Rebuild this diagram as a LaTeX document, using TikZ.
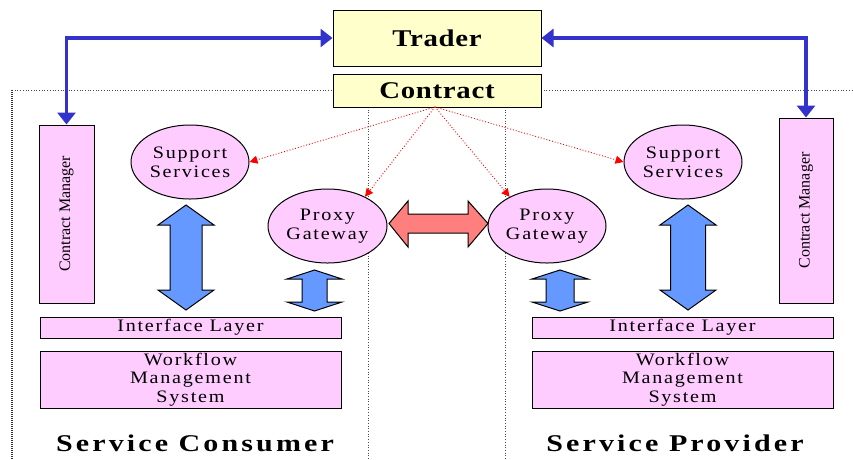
\documentclass[tikz,border=0pt]{standalone}
\usepackage{fontspec}
\setmainfont{Liberation Serif}
\newfontfamily\bodyfont[FakeStretch=1.15,LetterSpace=10]{Liberation Serif}
\newfontfamily\headfont[FakeStretch=1.2,LetterSpace=3,UprightFont=* Bold]{Liberation Serif}
\newfontfamily\sidefont[FakeStretch=1.25,LetterSpace=13,UprightFont=* Bold]{Liberation Serif}
\usetikzlibrary{shapes.geometric,arrows.meta}
\definecolor{pinkfill}{HTML}{FFCCFF}
\definecolor{yellowfill}{HTML}{FFFFCC}
\definecolor{bluefill}{HTML}{6699FF}
\definecolor{redfill}{HTML}{FF7F7F}
\definecolor{linkblue}{HTML}{3333CC}
\begin{document}
\begin{tikzpicture}[x=1pt,y=-1pt,
  ybox/.style={draw=black,line width=1pt,fill=yellowfill,inner sep=0pt,font=\headfont\fontsize{24}{26}\selectfont},
  pbox/.style={draw=black,line width=1pt,fill=pinkfill,inner sep=0pt,align=center,font=\bodyfont\fontsize{17.5}{18.5}\selectfont},
  pell/.style={ellipse,draw=black,line width=1pt,fill=pinkfill,inner sep=0pt,minimum width=118pt,minimum height=74pt,align=center,font=\bodyfont\fontsize{17.5}{19}\selectfont},
  cmbox/.style={draw=black,line width=1pt,fill=pinkfill,inner sep=0pt},
  cmtext/.style={rotate=90,font=\fontsize{16}{18}\selectfont},
  sidelabel/.style={font=\sidefont\fontsize{24}{26}\selectfont},
  bluelink/.style={draw=linkblue,line width=3.5pt,{Triangle[length=12pt,width=18pt]}-{Triangle[length=12pt,width=18pt]}},
  reddot/.style={draw=red,line width=0.9pt,dotted,-{Triangle[length=8pt,width=8pt]}},
  divider/.style={draw=black!70,line width=0.7pt,dotted},
  blockblue/.style={draw=black,line width=1pt,fill=bluefill},
  blockred/.style={draw=black,line width=1pt,fill=redfill}]
\useasboundingbox (0,0) rectangle (853,459);

% dividers
\draw[divider] (12,90) -- (333,90);
\draw[divider] (541,90) -- (853,90);
\draw[draw=black!80,line width=1.2pt,dash pattern=on 1pt off 1pt] (12,90) -- (12,459);
\draw[divider] (368,107) -- (368,459);
\draw[divider] (505,107) -- (505,459);

% top boxes
\node[ybox,minimum width=208pt,minimum height=56pt] (trader) at (437,38) {Trader};
\node[ybox,minimum width=208pt,minimum height=33pt] (contract) at (437,90.5) {Contract};

% contract managers
\node[cmbox,minimum width=55pt,minimum height=178pt] (cmL) at (66.5,214) {};
\node[cmtext] (cmLtext) at (cmL.center) {Contract Manager};
\node[cmbox,minimum width=54pt,minimum height=185pt] (cmR) at (806,210.5) {};
\node[cmtext] (cmRtext) at (cmR.center) {Contract Manager};

% ellipses
\node[pell] (ssL) at (190,162) {Support\\Services};
\node[pell] (ssR) at (683,162) {Support\\Services};
\node[pell,minimum width=119pt] (pgL) at (327.5,226) {Proxy\\Gateway};
\node[pell] (pgR) at (547,226) {Proxy\\Gateway};

% layers
\node[pbox,minimum width=301pt,minimum height=21pt] (ilL) at (190.5,327.5) {Interface Layer};
\node[pbox,minimum width=301pt,minimum height=21pt] (ilR) at (682.5,327.5) {Interface Layer};
\node[pbox,minimum width=301pt,minimum height=57pt] (wfL) at (190.5,379.5) {Workflow\\Management\\System};
\node[pbox,minimum width=301pt,minimum height=57pt] (wfR) at (682.5,379.5) {Workflow\\Management\\System};

% side labels
\node[sidelabel] (lblC) at (195,443) {Service Consumer};
\node[sidelabel] (lblP) at (675,443) {Service Provider};

% blue connectors
\draw[bluelink] (trader.west) -| (cmL.north);
\draw[bluelink] (trader.east) -| (cmR.north);

% red dotted arrows
\coordinate (src) at (435,107);
\draw[reddot] (src) -- (ssL.east);
\draw[reddot] (src) -- (pgL.38);
\draw[reddot] (src) -- (pgR.142);
\draw[reddot] (src) -- (ssR.west);

% big blue block arrows
\draw[blockblue] (186,205) -- (214,225) -- (202,225) -- (202,290) -- (214,290) -- (186,310)
  -- (158,290) -- (170,290) -- (170,225) -- (158,225) -- cycle;
\draw[blockblue] (688,205) -- (716,225) -- (705.5,225) -- (705.5,290) -- (716,290) -- (688,310)
  -- (660,290) -- (670.5,290) -- (670.5,225) -- (660,225) -- cycle;
% small blue block arrows
\draw[blockblue] (314.5,270) -- (342,279) -- (327,279) -- (327,302) -- (342,302) -- (314.5,311)
  -- (287,302) -- (302,302) -- (302,279) -- (287,279) -- cycle;
\draw[blockblue] (560,270) -- (588,279) -- (574,279) -- (574,302) -- (588,302) -- (560,311)
  -- (532,302) -- (546,302) -- (546,279) -- (532,279) -- cycle;

% red double block arrow
\draw[blockred] (389,223.5) -- (408,201) -- (408,214) -- (468,214) -- (468,201) -- (488,223.5)
  -- (468,247) -- (468,233) -- (408,233) -- (408,247) -- cycle;
\end{tikzpicture}
\end{document}
